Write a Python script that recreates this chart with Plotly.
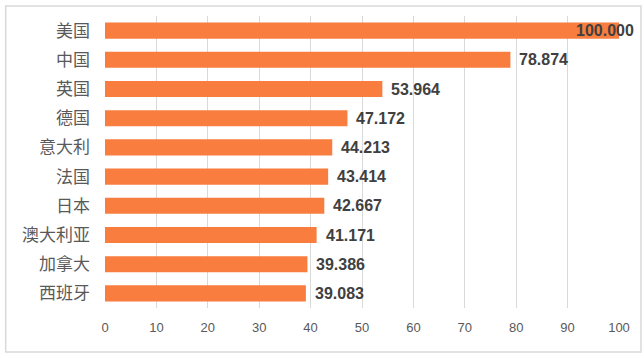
import plotly.graph_objects as go

countries = ["美国", "中国", "英国", "德国", "意大利", "法国", "日本", "澳大利亚", "加拿大", "西班牙"]
values = [100.000, 78.874, 53.964, 47.172, 44.213, 43.414, 42.667, 41.171, 39.386, 39.083]
x_ticks = [0, 10, 20, 30, 40, 50, 60, 70, 80, 90, 100]

bar_color = "#F97D3F"

fig = go.Figure(go.Bar(
    x=values, y=countries, orientation="h",
    marker=dict(color=bar_color, line=dict(width=0)),
    hoverinfo="skip",
))

annotations = []
for c, v in zip(countries, values):
    label = f"{v:.3f}"
    font = dict(family="Liberation Sans, Arial", size=16, color="#404040", weight="bold")
    if v >= max(values):
        annotations.append(dict(x=v, y=c, xref="x", yref="y", text=label, showarrow=False,
                                xanchor="right", xshift=17, font=font))
    else:
        annotations.append(dict(x=v, y=c, xref="x", yref="y", text=label, showarrow=False,
                                xanchor="left", xshift=7, font=font))

fig.update_layout(
    width=644, height=358,
    margin=dict(l=105, r=25, t=16, b=50),
    paper_bgcolor="white", plot_bgcolor="white",
    bargap=0.45,
    showlegend=False,
    annotations=annotations,
    shapes=[dict(type="rect", xref="paper", yref="paper",
                 x0=-0.1932, x1=1.0428, y0=-0.1507, y1=1.0342,
                 line=dict(color="#D9D9D9", width=1.5), layer="below")],
    xaxis=dict(range=[0, 100], tickvals=x_ticks, showgrid=True, gridcolor="#D9D9D9", gridwidth=1,
               zeroline=False, showline=False, ticks="",
               tickfont=dict(family="Liberation Sans, Arial", size=13, color="#595959"),
               ticklabelstandoff=10),
    yaxis=dict(categoryorder="array", categoryarray=countries[::-1], showgrid=False,
               zeroline=False, showline=False, ticks="",
               tickfont=dict(family="Noto Sans CJK SC", size=17, color="#595959"),
               ticklabelstandoff=14),
)

fig.write_html("out.html", config={"displayModeBar": False},
               post_script="document.body.style.margin='0';document.body.style.overflow='hidden';")
